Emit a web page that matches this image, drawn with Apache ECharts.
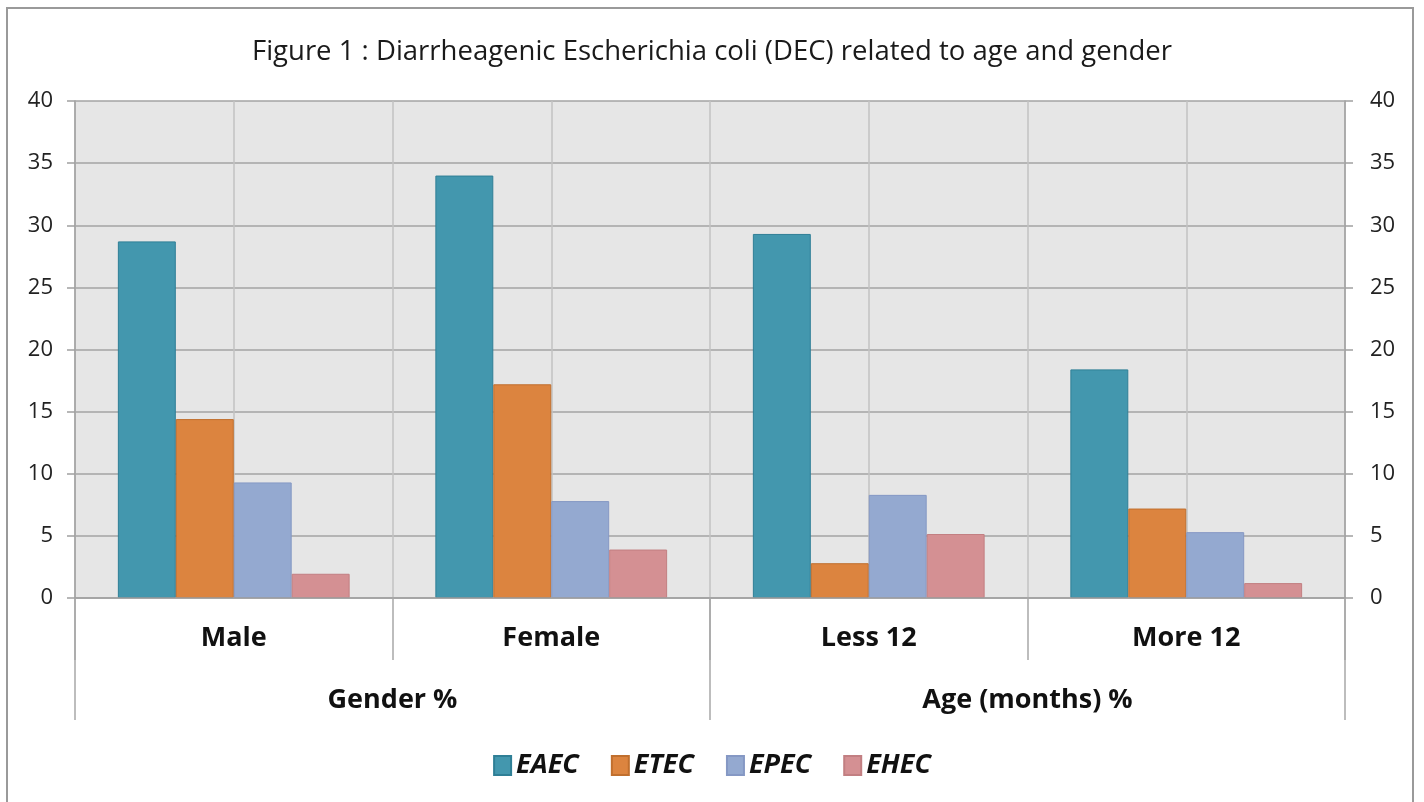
<!DOCTYPE html>
<html>
<head>
<meta charset="utf-8">
<script src="https://cdn.jsdelivr.net/npm/echarts@6/dist/echarts.min.js"></script>
<style>
html,body{margin:0;padding:0;background:#fff;}
#c{width:1424px;height:802px;}
</style>
</head>
<body>
<div id="c"></div>
<script>
const titleText = 'Figure 1 : Diarrheagenic Escherichia coli (DEC) related to age and gender';
const categories = ['Male', 'Female', 'Less 12', 'More 12'];
const groups = ['Gender %', 'Age (months) %'];
const seriesNames = ['EAEC', 'ETEC', 'EPEC', 'EHEC'];
const EAEC = [28.7, 34.0, 29.3, 18.4];
const ETEC = [14.4, 17.2, 2.8, 7.2];
const EPEC = [9.3, 7.8, 8.3, 5.3];
const EHEC = [1.95, 3.9, 5.15, 1.2];
const yTicks = {min: 0, max: 40, interval: 5};

const fills = ['#4397ae', '#dc843f', '#94a9d0', '#d49093'];
const borders = ['#2f7f96', '#c06f2e', '#8598c4', '#c27f82'];
const values = [EAEC, ETEC, EPEC, EHEC];

const FONT = '"Open Sans", "Liberation Sans", sans-serif';
const chart = echarts.init(document.getElementById('c'));

const option = {
  backgroundColor: '#ffffff',
  animation: false,
  title: {
    text: titleText,
    left: 'center',
    top: 33,
    textStyle: {fontFamily: FONT, fontSize: 27.5, fontWeight: 'normal', color: '#1a1a1a'}
  },
  legend: {
    data: seriesNames,
    top: 747,
    left: 'center',
    itemWidth: 17,
    itemHeight: 19,
    itemGap: 32,
    icon: 'rect',
    textStyle: {fontFamily: FONT, fontSize: 27, fontStyle: 'italic', fontWeight: 'bold', color: '#111'}
  },
  grid: {
    left: 75, right: 79, top: 101, bottom: 204,
    show: true, backgroundColor: '#e6e6e6', borderWidth: 0,
    containLabel: false
  },
  xAxis: [
    {
      type: 'category',
      data: categories,
      position: 'bottom',
      z: 3,
      axisLine: {show: true, lineStyle: {color: '#a0a0a0', width: 1.5}},
      axisTick: {show: true, length: 62, interval: 0, lineStyle: {color: '#a8a8a8', width: 1.5}},
      axisLabel: {interval: 0, margin: 27, fontFamily: FONT, fontSize: 27, fontWeight: 'bold', color: '#111'},
      splitLine: {show: false}
    },
    {
      type: 'category',
      data: groups,
      position: 'bottom',
      offset: 62,
      show: true,
      z: 2,
      axisLine: {show: true, lineStyle: {color: 'rgba(0,0,0,0)', width: 1}},
      axisTick: {show: true, inside: false, length: 122, interval: 0, lineStyle: {color: '#a8a8a8', width: 1.5}},
      axisLabel: {interval: 0, margin: 27, fontFamily: FONT, fontSize: 27, fontWeight: 'bold', color: '#111'},
      splitLine: {show: false}
    },
    {
      type: 'value',
      min: 0, max: categories.length * 2, interval: 1,
      position: 'top',
      show: true,
      axisLine: {show: false},
      axisTick: {show: false},
      axisLabel: {show: false},
      splitLine: {show: true, lineStyle: {color: '#c2c2c2', width: 1.5}}
    }
  ],
  yAxis: [
    {
      type: 'value',
      min: yTicks.min, max: yTicks.max, interval: yTicks.interval,
      position: 'left',
      axisLine: {show: true, lineStyle: {color: '#a0a0a0', width: 1.5}},
      axisTick: {show: true, length: 8, lineStyle: {color: '#a0a0a0', width: 1.5}},
      axisLabel: {margin: 22, fontFamily: FONT, fontSize: 22, color: '#222'},
      splitLine: {show: true, lineStyle: {color: '#a3a3a3', width: 1.5}}
    },
    {
      type: 'value',
      min: yTicks.min, max: yTicks.max, interval: yTicks.interval,
      position: 'right',
      axisLine: {show: true, lineStyle: {color: '#a0a0a0', width: 1.5}},
      axisTick: {show: true, length: 8, lineStyle: {color: '#a0a0a0', width: 1.5}},
      axisLabel: {margin: 25, fontFamily: FONT, fontSize: 22, color: '#222'},
      splitLine: {show: false}
    }
  ],
  series: seriesNames.map((name, i) => ({
    name: name,
    type: 'bar',
    xAxisIndex: 0,
    yAxisIndex: 0,
    data: values[i],
    barGap: '0%',
    barCategoryGap: '27%',
    itemStyle: {color: fills[i], borderColor: borders[i], borderWidth: 1}
  })),
  graphic: [
    {
      type: 'rect',
      shape: {x: 7, y: 8, width: 1406, height: 820},
      style: {fill: null, stroke: '#9a9a9a', lineWidth: 2},
      silent: true,
      z: 100
    }
  ]
};
chart.setOption(option);
</script>
</body>
</html>
